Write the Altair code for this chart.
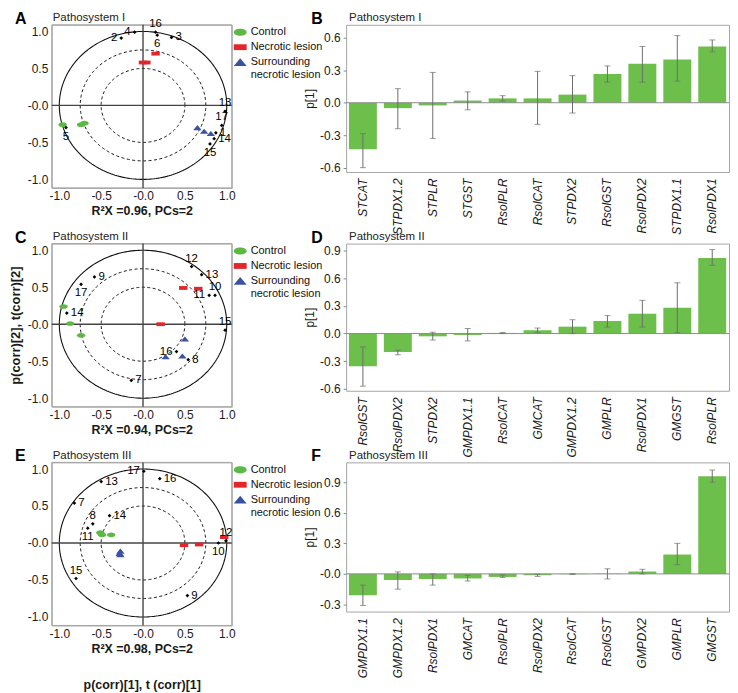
import altair as alt
import numpy as np
import pandas as pd

FONT = "Liberation Sans"

# ---------------- data ----------------
GROUPS = ["Control", "Necrotic lesion", "Surrounding necrotic lesion"]
GROUP_COLORS = ["#5cb946", "#e4262b", "#3a52a2"]
GROUP_SHAPES = [
    "M-1,0 A1,0.55 0 1,1 1,0 A1,0.55 0 1,1 -1,0 Z",
    "M-1,-0.45 L1,-0.45 L1,0.45 L-1,0.45 Z",
    "M0,-0.6 L1,0.6 L-1,0.6 Z",
]
GROUP_OF_MARKERS = ["Control"] * 3 + ["Necrotic lesion"] * 3 + ["Surrounding necrotic lesion"] * 3

# Panel A (Pathosystem I) loadings
a_ids = ["2", "4", "16", "6", "3", "13", "17", "1", "14", "15", "5"]
a_x = [-0.26, -0.10, 0.15, 0.17, 0.34, 0.98, 0.94, 0.87, 0.85, 0.80, -0.92]
a_y = [0.91, 0.99, 0.99, 0.95, 0.92, -0.08, -0.27, -0.37, -0.45, -0.52, -0.30]
a_side = ["l", "l", "t", "b", "r", "t", "t", "r", "r", "b", "b"]
a_gx = [-0.96, -0.74, -0.70, 0.00, 0.04, 0.15, 0.65, 0.73, 0.81]
a_gy = [-0.26, -0.26, -0.24, 0.58, 0.58, 0.70, -0.30, -0.35, -0.38]

# Panel C (Pathosystem II)
c_ids = ["12", "13", "10", "11", "15", "9", "17", "14", "16", "8", "7"]
c_x = [0.58, 0.70, 0.86, 0.79, 0.98, -0.58, -0.74, -0.91, 0.40, 0.54, -0.14]
c_y = [0.78, 0.67, 0.39, 0.39, -0.08, 0.64, 0.54, 0.15, -0.37, -0.48, -0.76]
c_side = ["t", "r", "t", "l", "t", "r", "b", "r", "l", "r", "r"]
c_gx = [-0.95, -0.87, -0.74, 0.48, 0.66, 0.21, 0.50, 0.27, 0.47]
c_gy = [0.24, 0.01, -0.15, 0.49, 0.48, 0.00, -0.20, -0.44, -0.43]

# Panel E (Pathosystem III)
e_ids = ["17", "16", "13", "7", "8", "14", "11", "12", "10", "15", "9"]
e_x = [0.01, 0.20, -0.50, -0.82, -0.60, -0.40, -0.66, 0.99, 0.90, -0.80, 0.53]
e_y = [0.97, 0.87, 0.83, 0.54, 0.26, 0.37, 0.20, 0.03, 0.00, -0.48, -0.71]
e_side = ["l", "r", "r", "r", "t", "r", "b", "t", "b", "t", "r"]
e_gx = [-0.51, -0.49, -0.38, 0.49, 0.67, 0.97, -0.27, -0.28, -0.27]
e_gy = [0.14, 0.11, 0.11, -0.03, -0.02, 0.08, -0.11, -0.14, -0.16]

# Panel B
b_genes = ["STCAT", "STPDX1.2", "STPLR", "STGST", "RsolPLR", "RsolCAT", "STPDX2", "RsolGST", "RsolPDX2", "STPDX1.1", "RsolPDX1"]
b_vals = [-0.43, -0.05, -0.025, 0.02, 0.04, 0.04, 0.075, 0.265, 0.36, 0.40, 0.52]
b_lo = [-0.60, -0.24, -0.33, -0.065, 0.015, -0.20, -0.095, 0.19, 0.19, 0.20, 0.47]
b_hi = [-0.285, 0.13, 0.28, 0.10, 0.065, 0.29, 0.25, 0.34, 0.52, 0.62, 0.58]

# Panel D
d_genes = ["RsolGST", "RsolPDX2", "STPDX2", "GMPDX1.1", "RsolCAT", "GMCAT", "GMPDX1.2", "GMPLR", "RsolPDX1", "GMGST", "RsolPLR"]
d_vals = [-0.355, -0.20, -0.03, -0.015, 0.007, 0.036, 0.075, 0.135, 0.215, 0.28, 0.82]
d_lo = [-0.57, -0.23, -0.07, -0.08, 0.0, 0.01, 0.0, 0.07, 0.07, 0.01, 0.74]
d_hi = [-0.145, -0.18, 0.015, 0.055, 0.012, 0.06, 0.15, 0.195, 0.36, 0.55, 0.91]

# Panel F
f_genes = ["GMPDX1.1", "GMPDX1.2", "RsolPDX1", "GMCAT", "RsolPLR", "RsolPDX2", "RsolCAT", "RsolGST", "GMPDX2", "GMPLR", "GMGST"]
f_vals = [-0.21, -0.06, -0.05, -0.045, -0.03, -0.013, -0.003, 0.002, 0.023, 0.19, 0.96]
f_lo = [-0.31, -0.15, -0.11, -0.07, -0.035, -0.025, -0.005, -0.05, 0.0, 0.09, 0.90]
f_hi = [-0.11, 0.02, 0.0, -0.015, -0.01, -0.003, 0.0, 0.05, 0.045, 0.30, 1.02]

CIRCLE_RADII = [1.0, 0.75, 0.5]
SC_XDOM = [-1.09, 1.06]
SC_YDOM = [-1.115, 1.09]

# ---------------- helpers ----------------
SC_W, SC_H = 181, 164
BAR_W = 385
BAR_GREEN = "#6cbf4a"
FRAME = "#a5a5a5"


def lab_expr(zero_label):
    return ("datum.value == 0 ? '" + zero_label + "' : (datum.value < 0 ? '-' : '') + format(abs(datum.value), '.1f')")


def letter_layer(letter, dx):
    return alt.Chart(pd.DataFrame({"t": [letter]})).mark_text(
        fontSize=16, fontWeight="bold", font=FONT, align="left", baseline="alphabetic", color="#000"
    ).encode(text="t:N", x=alt.value(dx), y=alt.value(-1))


def panel_title(text, dx):
    return alt.Title(text, anchor="start", frame="group", fontSize=11.5, fontWeight="normal",
                     font=FONT, offset=0, dx=dx, dy=13, color="#222")


def scatter_panel(letter, title, ids, xs, ys, sides, gx, gy, xtitle, ytitle):
    xscale = alt.Scale(domain=SC_XDOM, nice=False, zero=False)
    yscale = alt.Scale(domain=SC_YDOM, nice=False, zero=False)
    xaxis = alt.Axis(values=[-1, -0.5, 0, 0.5, 1], labelExpr=lab_expr("-0.0"), title=xtitle,
                     titleFontSize=12.5, titleFontWeight="bold", titlePadding=3, titleLineHeight=36,
                     labelPadding=3, labelFlush=False)
    yaxis = alt.Axis(values=[-1, -0.5, 0, 0.5, 1], labelExpr=lab_expr("-0.0"), title=ytitle,
                     titleFontSize=13, titleFontWeight="bold", titlePadding=5, labelPadding=4,
                     labelFlush=False)
    X = lambda f: alt.X(f, type="quantitative", scale=xscale, axis=xaxis)
    Y = lambda f: alt.Y(f, type="quantitative", scale=yscale, axis=yaxis)

    theta = np.linspace(0, 2 * np.pi, 241)
    layers = []
    # frame along the domain edges
    layers.append(alt.Chart(pd.DataFrame({"x": SC_XDOM})).mark_rule(color=FRAME, strokeWidth=1).encode(x=X("x")))
    layers.append(alt.Chart(pd.DataFrame({"y": SC_YDOM})).mark_rule(color=FRAME, strokeWidth=1).encode(y=Y("y")))
    for r in CIRCLE_RADII:
        cdf = pd.DataFrame({"x": r * np.cos(theta), "y": r * np.sin(theta), "o": np.arange(len(theta))})
        mk = dict(color="#111", strokeWidth=1.1) if r == 1.0 else dict(color="#111", strokeWidth=1.0, strokeDash=[3, 2.5])
        layers.append(alt.Chart(cdf).mark_line(**mk).encode(x=X("x"), y=Y("y"), order="o:Q"))
    layers.append(alt.Chart(pd.DataFrame({"x": [0.0]})).mark_rule(color="#444", strokeWidth=1.4).encode(x=X("x")))
    layers.append(alt.Chart(pd.DataFrame({"y": [0.0]})).mark_rule(color="#444", strokeWidth=1.4).encode(y=Y("y")))

    gdf = pd.DataFrame({"x": gx, "y": gy, "g": GROUP_OF_MARKERS})
    legend = alt.Legend(title=None, orient="none", legendX=SC_W + 2, legendY=1, symbolSize=169,
                        symbolStrokeWidth=0, labelFontSize=11, labelFont=FONT, labelColor="#111",
                        labelOffset=4, rowPadding=3, padding=0, labelLimit=200,
                        labelExpr="datum.label == 'Surrounding necrotic lesion' ? ['Surrounding', 'necrotic lesion'] : datum.label")
    layers.append(
        alt.Chart(gdf).mark_point(filled=True, opacity=1, size=72, strokeWidth=0).encode(
            x=X("x"), y=Y("y"),
            color=alt.Color("g:N", scale=alt.Scale(domain=GROUPS, range=GROUP_COLORS), legend=legend),
            shape=alt.Shape("g:N", scale=alt.Scale(domain=GROUPS, range=GROUP_SHAPES), legend=legend),
        )
    )

    pdf = pd.DataFrame({"x": xs, "y": ys, "id": ids, "side": sides})
    layers.append(alt.Chart(pdf).mark_point(shape="diamond", filled=True, color="#000", size=14, opacity=1)
                  .encode(x=X("x"), y=Y("y")))
    offsets = {"r": dict(dx=4, dy=0, align="left"), "l": dict(dx=-4, dy=0, align="right"),
               "t": dict(dx=0, dy=-8, align="center"), "b": dict(dx=0, dy=9, align="center")}
    for s, kw in offsets.items():
        layers.append(
            alt.Chart(pdf).transform_filter(alt.datum.side == s)
            .mark_text(fontSize=11.5, font=FONT, color="#000", baseline="middle", **kw)
            .encode(x=X("x"), y=Y("y"), text="id:N")
        )
    layers.append(letter_layer(letter, -37))
    return alt.layer(*layers).properties(width=SC_W, height=SC_H, title=panel_title(title, 1))


def bar_panel(letter, title, genes, vals, lo, hi, domain, ticks, zero_label, height):
    df = pd.DataFrame({"gene": genes, "v": vals, "lo": lo, "hi": hi})
    xenc = alt.X("gene:N", sort=None, scale=alt.Scale(paddingInner=0.2, paddingOuter=0.08),
                 axis=alt.Axis(title=None, labelAngle=-90, labelAlign="right", labelBaseline="middle",
                               labelFontStyle="italic", labelFontSize=12, ticks=False, labelPadding=6))
    yscale = alt.Scale(domain=domain, nice=False, zero=False)
    yaxis = alt.Axis(values=ticks, labelExpr=lab_expr(zero_label), title="p[1]", titleFontSize=12,
                     titleFontWeight="normal", titlePadding=3, ticks=True, tickSize=3, tickColor="#888",
                     labelPadding=3)
    bars = alt.Chart(df).mark_bar(color=BAR_GREEN).encode(
        x=xenc, y=alt.Y("v:Q", scale=yscale, axis=yaxis), y2=alt.datum(0))
    zero = alt.Chart(pd.DataFrame({"v": [0.0]})).mark_rule(color="#8a8a8a", strokeWidth=1).encode(
        y=alt.Y("v:Q", scale=yscale, axis=yaxis))
    err = alt.Chart(df).mark_rule(color="#6d6d6d", strokeWidth=1).encode(
        x=xenc, y=alt.Y("lo:Q", scale=yscale, axis=yaxis), y2="hi:Q")
    cap_lo = alt.Chart(df).mark_tick(color="#6d6d6d", thickness=1, size=6).encode(
        x=xenc, y=alt.Y("lo:Q", scale=yscale, axis=yaxis))
    cap_hi = alt.Chart(df).mark_tick(color="#6d6d6d", thickness=1, size=6).encode(
        x=xenc, y=alt.Y("hi:Q", scale=yscale, axis=yaxis))
    return alt.layer(bars, zero, err, cap_lo, cap_hi, letter_layer(letter, -35)).properties(
        width=BAR_W, height=height, title=panel_title(title, 3),
    )


A = scatter_panel("A", "Pathosystem I", a_ids, a_x, a_y, a_side, a_gx, a_gy, "R²X =0.96, PCs=2", None)
C = scatter_panel("C", "Pathosystem II", c_ids, c_x, c_y, c_side, c_gx, c_gy, "R²X =0.94, PCs=2",
                  "p(corr)[2], t(corr)[2]")
E = scatter_panel("E", "Pathosystem III", e_ids, e_x, e_y, e_side, e_gx, e_gy,
                  ["R²X =0.98, PCs=2", "p(corr)[1], t (corr)[1]"], None)

B = bar_panel("B", "Pathosystem I", b_genes, b_vals, b_lo, b_hi, [-0.64, 0.72], [-0.6, -0.3, 0, 0.3, 0.6], "0.0", 148)
D = bar_panel("D", "Pathosystem II", d_genes, d_vals, d_lo, d_hi, [-0.62, 0.975], [-0.6, -0.3, 0, 0.3, 0.6, 0.9], "0.0", 148)
F = bar_panel("F", "Pathosystem III", f_genes, f_vals, f_lo, f_hi, [-0.37, 1.095], [-0.3, 0, 0.3, 0.6, 0.9], "-0.0", 150)

chart = alt.concat(A, B, C, D, E, F, columns=2, spacing={"row": 56, "column": 115},
                   bounds="flush", align="each").resolve_scale(
    color="independent", shape="independent"
).resolve_legend(color="independent", shape="independent").properties(
    padding={"left": 0, "top": 0, "right": 0, "bottom": 0}
).configure_view(stroke=FRAME, strokeWidth=1).configure_axis(
    labelFont=FONT, titleFont=FONT, labelFontSize=12, labelColor="#1a1a1a", titleColor="#1a1a1a",
    grid=False, domain=False, ticks=False
)

chart.save("out.html", embed_options={"renderer": "svg", "actions": False})
